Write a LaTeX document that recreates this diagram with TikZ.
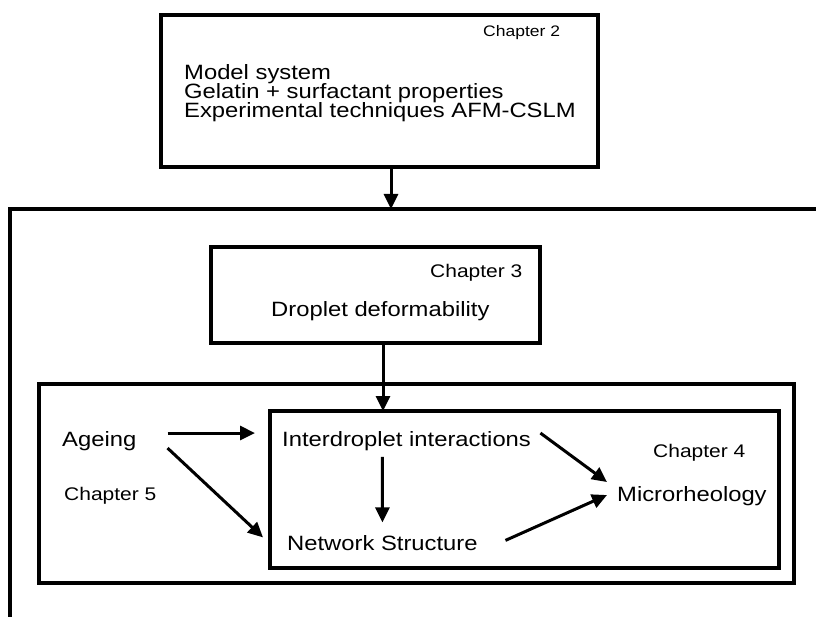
\documentclass[tikz,border=0pt]{standalone}
\usepackage{fontspec}
\setmainfont{Liberation Sans}
\usetikzlibrary{arrows.meta}
\begin{document}
\begin{tikzpicture}[x=1pt,y=-1pt,
  box/.style={draw, line width=3.6pt, inner sep=0pt, outer sep=0pt},
  frameline/.style={line width=3.6pt},
  arr/.style={line width=3pt, -{Triangle[length=15pt,width=14pt]}},
  big/.style={font=\fontsize{23.8}{24}\selectfont, inner sep=0pt, anchor=base west, yscale=0.87, transform shape},
  chap/.style={font=\fontsize{21}{22}\selectfont, inner sep=0pt, anchor=base west, yscale=0.87, transform shape},
  chapsmall/.style={font=\fontsize{17.5}{18}\selectfont, inner sep=0pt, anchor=base west, yscale=0.87, transform shape},
]
\useasboundingbox (0,0) rectangle (816,617);

% boxes
\node[box, minimum width=437pt, minimum height=152pt] (top) at (379.5,91) {};
\node[box, minimum width=329pt, minimum height=96pt] (ch3) at (375.5,295) {};
\node[box, minimum width=755pt, minimum height=199pt] (lower) at (416.5,483.5) {};
\node[box, minimum width=509pt, minimum height=157pt] (inner) at (524.5,489.5) {};

% big open frame
\coordinate (bfBL) at (10,619);
\coordinate (bfTL) at (10,209);
\coordinate (bfTR) at (818,209);
\draw[frameline] (bfBL) -- (bfTL) -- (bfTR);

% texts in top box
\node[chapsmall] (c2) at (483,37) {Chapter 2};
\node[big] (l1) at (184,80) {Model system};
\node[big] (l2) at (184,99) {Gelatin + surfactant properties};
\node[big] (l3) at (184,118) {Experimental techniques AFM-CSLM};

% chapter 3 box
\node[chap] (c3) at (430,278) {Chapter 3};
\node[big] (drop) at (271,317) {Droplet deformability};

% lower part
\node[big] (ageing) at (62,446) {Ageing};
\node[chap] (c5) at (64,500) {Chapter 5};
\node[big] (inter) at (282,446) {Interdroplet interactions};
\node[big] (network) at (287,550) {Network Structure};
\node[chap] (c4) at (653,457) {Chapter 4};
\node[big] (micro) at (617,501) {Microrheology};

% arrows
\coordinate (a1end) at (391,209);
\draw[arr] ([xshift=11.5pt]top.south) -- (a1end);
\draw[arr] ([xshift=7.5pt]ch3.south) -- ([xshift=-141.5pt]inner.north);
\draw[arr] ([xshift=31pt,yshift=7.6pt]ageing.east) -- ([xshift=-27pt,yshift=7.6pt]inter.west);
\draw[arr] ([xshift=31pt,yshift=-7.4pt]ageing.east) -- ([xshift=-24pt,yshift=5.2pt]network.west);
\draw[arr] ([xshift=-24.2pt,yshift=-6.5pt]inter.south) -- ([yshift=12.4pt]network.north);
\draw[arr] ([xshift=9.3pt,yshift=7.6pt]inter.east) -- ([xshift=-10pt,yshift=13.6pt]micro.west);
\draw[arr] ([xshift=27.6pt,yshift=2.2pt]network.east) -- ([xshift=-10pt,yshift=0.6pt]micro.west);
\end{tikzpicture}
\end{document}
